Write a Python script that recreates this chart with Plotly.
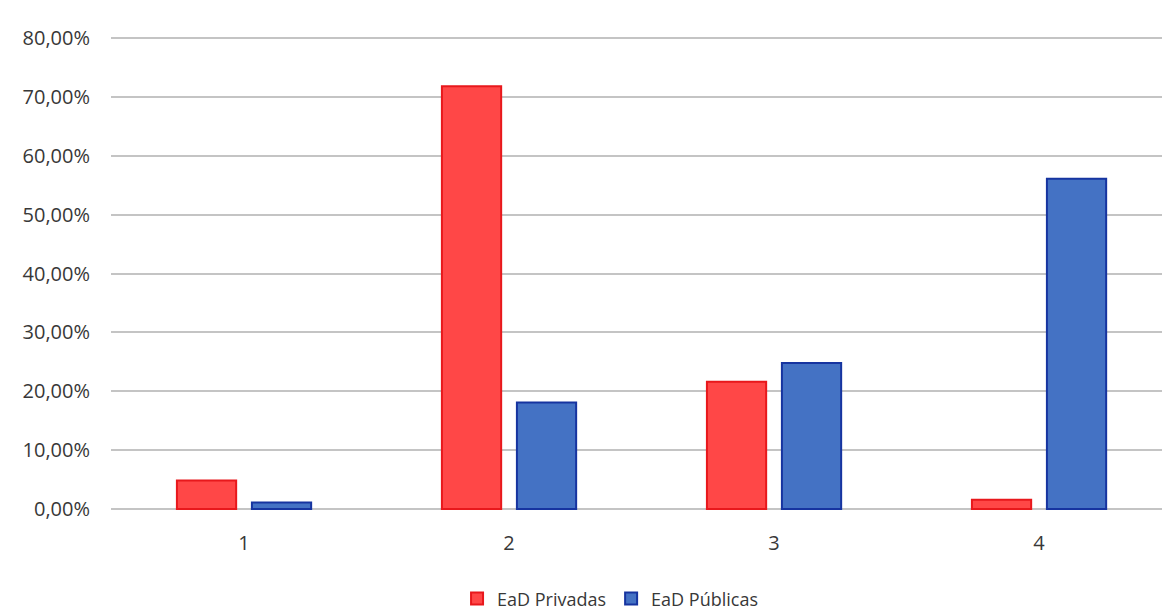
import plotly.graph_objects as go

categories = [1, 2, 3, 4]
tick_labels = ["1", "2", "3", "4"]
ead_privadas = [0.0485, 0.718, 0.216, 0.016]
ead_publicas = [0.011, 0.181, 0.248, 0.561]
y_ticks = [0, 0.1, 0.2, 0.3, 0.4, 0.5, 0.6, 0.7, 0.8]

fig = go.Figure()
fig.add_trace(go.Bar(
    x=categories, y=ead_privadas, name="EaD Privadas",
    marker=dict(color="#FF4747", line=dict(color="#E8181C", width=2)),
))
fig.add_trace(go.Bar(
    x=categories, y=ead_publicas, name="EaD Públicas",
    marker=dict(color="#4472C4", line=dict(color="#1634A0", width=2)),
))

fig.update_layout(
    width=1162, height=611,
    margin=dict(l=111, r=0, t=35, b=99),
    paper_bgcolor="white", plot_bgcolor="white",
    barmode="group", bargap=0.434, bargroupgap=0.21,
    separators=",.",
    font=dict(family="Open Sans", size=20, color="#383838"),
    showlegend=True,
    legend=dict(
        orientation="h", xref="container", yref="container",
        x=0.525, y=0.02, xanchor="center", yanchor="middle",
        font=dict(size=18, color="#383838"), itemwidth=30,
    ),
)
fig.update_xaxes(
    range=[0.498, 4.464], tickmode="array", tickvals=categories, ticktext=tick_labels,
    showgrid=False, zeroline=False, showline=False, ticks="", ticklabelstandoff=17,
)
fig.update_yaxes(
    range=[-0.005, 0.805], tickmode="array", tickvals=y_ticks, tickformat=".2%",
    showgrid=True, gridcolor="#C4C4C4", gridwidth=2, zeroline=False, showline=False,
    ticks="", ticklabelstandoff=20,
)

fig.write_html("out.html")
